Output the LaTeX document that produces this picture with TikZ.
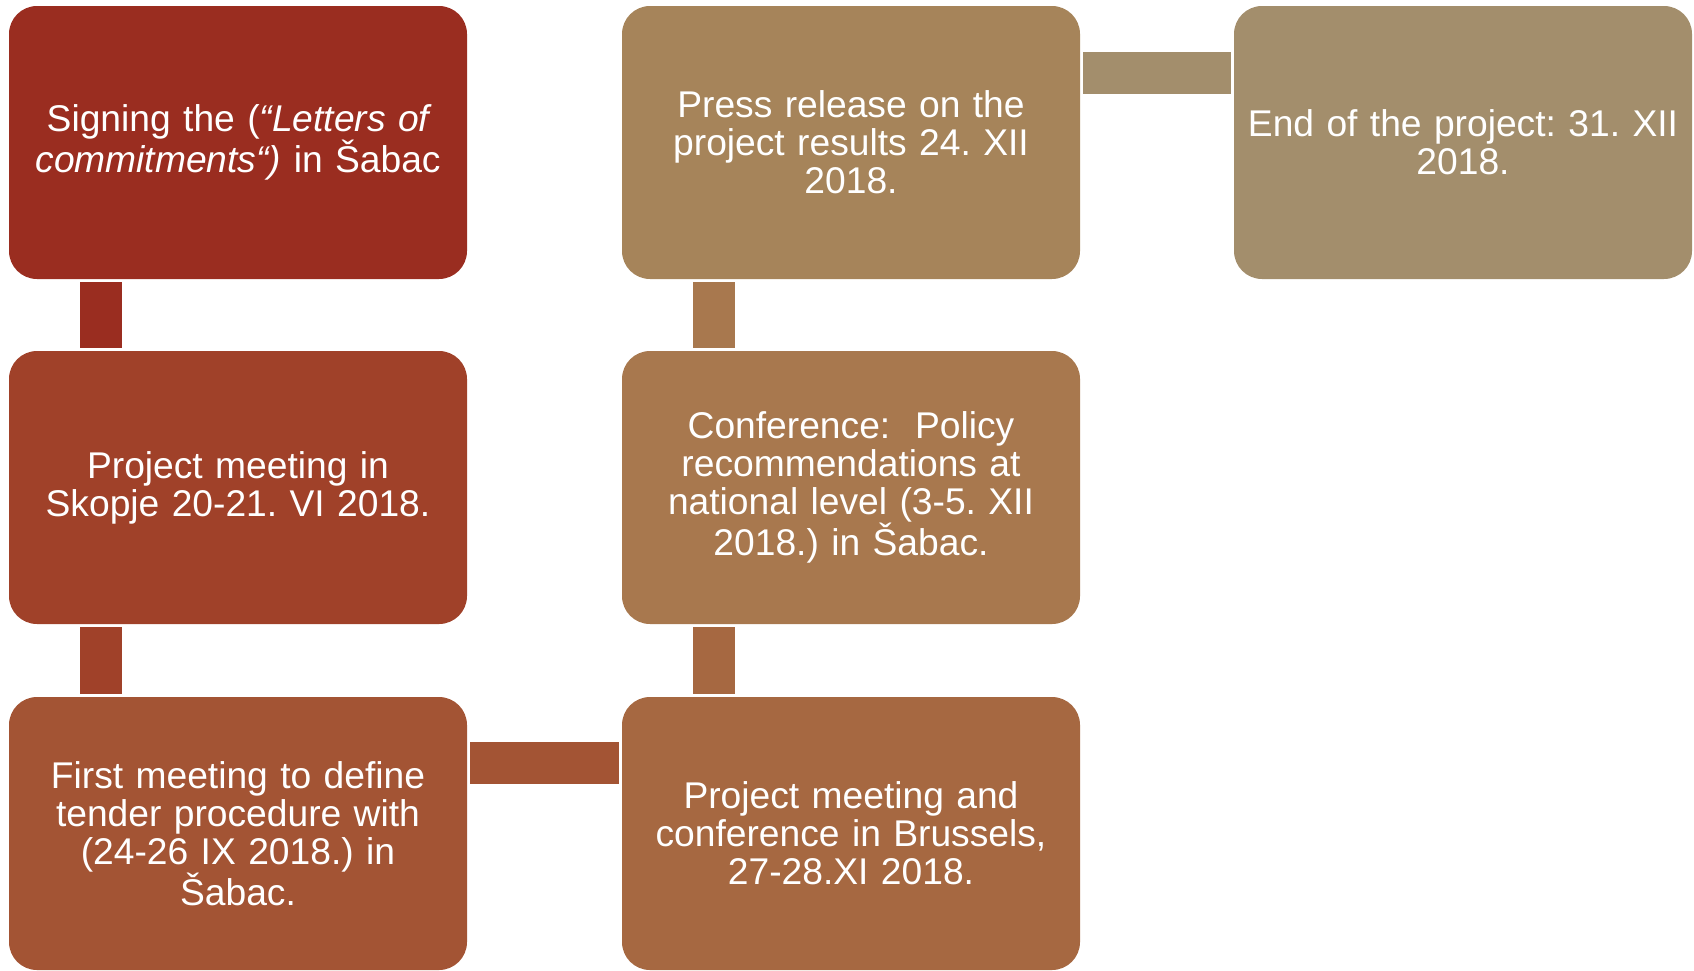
\documentclass[tikz,border=0pt]{standalone}
\usepackage{fontspec}
\setmainfont{Liberation Sans}
\frenchspacing
\lineskiplimit=-30pt
\definecolor{stA}{RGB}{154,45,32}
\definecolor{stB}{RGB}{160,65,41}
\definecolor{stC}{RGB}{163,84,52}
\definecolor{stD}{RGB}{166,104,65}
\definecolor{stE}{RGB}{168,120,78}
\definecolor{stF}{RGB}{166,132,90}
\definecolor{stG}{RGB}{163,142,108}
\begin{document}
\begin{tikzpicture}[x=1pt,y=-1pt,
  stage/.style={rounded corners=28pt, minimum width=458pt, minimum height=273pt,
    inner sep=0pt, outer sep=0pt, anchor=north west, text=white, align=center,
    text width=444pt, font=\fontsize{37.2}{38}\selectfont}]
\useasboundingbox (0,0) rectangle (1694,970);

% timeline stages
\node[stage, fill=stA] (s1) at (9,6)
  {Signing the ({\itshape “Letters of}\\{\itshape commitments“)} in Šabac};
\node[stage, fill=stB] (s2) at (9,351)
  {Project meeting in\\Skopje 20-21. VI 2018.};
\node[stage, fill=stC] (s3) at (9,697)
  {First meeting to define\\tender procedure with\\(24-26 IX 2018.) in\\Šabac.};
\node[stage, fill=stD] (s4) at (622,697)
  {Project meeting and\\conference in Brussels,\\27-28.XI 2018.};
\node[stage, fill=stE] (s5) at (622,351)
  {Conference:\ \ Policy\\recommendations at\\national level (3-5. XII\\2018.) in Šabac.};
\node[stage, fill=stF] (s6) at (622,6)
  {Press release on the\\project results 24. XII\\2018.};
\node[stage, fill=stG] (s7) at (1234,6)
  {End of the project: 31. XII\\2018.};

% connecting bars
\fill[stA] ([xshift=71pt,yshift=-3pt]s1.south west) rectangle ([xshift=113pt,yshift=3pt]s2.north west);
\fill[stB] ([xshift=71pt,yshift=-3pt]s2.south west) rectangle ([xshift=113pt,yshift=3pt]s3.north west);
\fill[stC] ([xshift=3pt,yshift=-45pt]s3.north east) rectangle ([xshift=-3pt,yshift=-87pt]s4.north west);
\fill[stD] ([xshift=71pt,yshift=3pt]s4.north west) rectangle ([xshift=113pt,yshift=-3pt]s5.south west);
\fill[stE] ([xshift=71pt,yshift=3pt]s5.north west) rectangle ([xshift=113pt,yshift=-3pt]s6.south west);
\fill[stG] ([xshift=3pt,yshift=-46pt]s6.north east) rectangle ([xshift=-3pt,yshift=-88pt]s7.north west);
\end{tikzpicture}
\end{document}
